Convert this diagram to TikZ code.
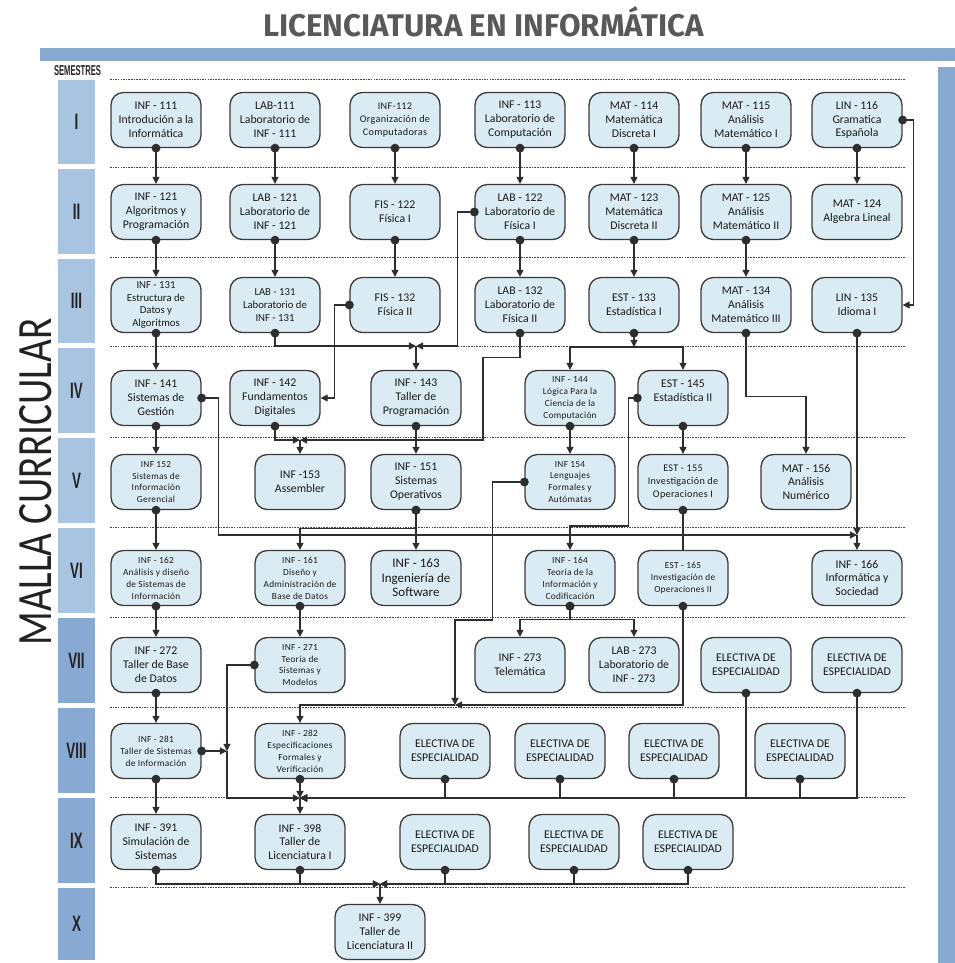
\documentclass[tikz,border=0pt]{standalone}
\usepackage{fontspec}
\usepackage{graphicx}
\setmainfont{Carlito}
\newfontfamily\titlefont{Fira Sans}
\newfontfamily\numfont{Liberation Sans}
\usetikzlibrary{arrows.meta}

\definecolor{bandaclara}{HTML}{A9C4E0}
\definecolor{bandaoscura}{HTML}{88A9D1}
\definecolor{barra}{HTML}{87A8CF}
\definecolor{celeste}{HTML}{DAEBF3}
\definecolor{borde}{HTML}{3A3A3A}
\definecolor{linea}{HTML}{2E2E2E}
\definecolor{gris}{HTML}{444444}
\definecolor{texto}{HTML}{1A1A1A}
\definecolor{numtexto}{HTML}{222222}
\definecolor{gristitulo}{HTML}{595959}

\newcommand{\fuenteN}{\fontsize{6.7}{7.9}\selectfont}
\newcommand{\fuenteM}{\fontsize{6.1}{7.3}\selectfont}
\newcommand{\fuenteG}{\fontsize{7.4}{8.3}\selectfont}
\newcommand{\fuenteS}{\fontsize{5.8}{7.3}\selectfont\addfontfeatures{LetterSpace=3}}
\newcommand{\fuenteT}{\fontsize{5.3}{6.8}\selectfont\addfontfeatures{LetterSpace=3}}

\begin{document}
\begin{tikzpicture}[x=0.02cm, y=-0.02cm]
\tikzstyle{materia} = [draw=borde, fill=celeste, line width=0.75pt, rounded corners=7pt, minimum width=1.8cm, minimum height=1.1cm, inner sep=1pt, align=center, text=texto, font=\fuenteN]
\tikzstyle{req} = [draw=linea, line width=0.65pt, shorten <=-2.5pt, {Circle[length=5pt]}-{Triangle[length=4pt,width=4pt]}]
\tikzstyle{enlace} = [draw=linea, line width=0.65pt, shorten <=-2.5pt, {Circle[length=5pt]}-]
\tikzstyle{sigue} = [draw=linea, line width=0.65pt, -{Triangle[length=4pt,width=4pt]}]
\tikzstyle{punteada} = [draw=gris, line width=0.55pt, dash pattern=on 0.9pt off 0.6pt]
\tikzstyle{semestre} = [font=\numfont\bfseries\fontsize{12.7}{13}\selectfont, text=numtexto, inner sep=0pt]
\useasboundingbox (0,0) rectangle (955,963);

% marco
\node[anchor=base, font=\titlefont\bfseries, text=gristitulo, inner sep=0pt] (titulo) at (483.5,37) {\resizebox{8.82cm}{!}{LICENCIATURA EN INFORMÁTICA}};
\fill[barra] (40,48) rectangle (955,61);
\fill[barra] (938,67) rectangle (955,963);
\node[anchor=base, inner sep=0pt, text=numtexto] (semestres) at (77.5,76) {\resizebox{0.94cm}{0.2cm}{\numfont\bfseries SEMESTRES}};
\node[rotate=90, inner sep=0pt, text=numtexto] (malla) at (36,482) {\resizebox{6.54cm}{0.64cm}{MALLA CURRICULAR}};

\foreach \num/\ya/\yb/\col in {I/80/164/bandaclara, II/169/254/bandaclara, III/259/343/bandaclara, IV/348/433/bandaclara, V/438/523/bandaclara, VI/528/613/bandaclara, VII/618/703/bandaoscura, VIII/708/793/bandaoscura, IX/798/883/bandaoscura, X/888/960/bandaoscura}{
  \fill[\col] (58,\ya) rectangle (95,\yb);
  \node[semestre] (sem\num) at (76.5,{(\ya+\yb)/2}) {\scalebox{0.6}[1]{\num}};
}
\foreach \y in {79,167,257,346,437,527,617,707,797,887}
  \draw[punteada] (110,\y) -- (905,\y);

% semestre I
\node[materia] (inf111) at (156,120) {INF - 111\\Introdución a la\\Informática};
\node[materia] (lab111) at (275,120) {LAB-111\\Laboratorio de\\INF - 111};
\node[materia, font=\fuenteS] (inf112) at (395,120) {INF-112\\Organización de\\Computadoras};
\node[materia] (inf113) at (520,120) {INF - 113\\Laboratorio de\\Computación};
\node[materia] (mat114) at (634,120) {MAT - 114\\Matemática\\Discreta I};
\node[materia] (mat115) at (746,120) {MAT - 115\\Análisis\\Matemático I};
\node[materia] (lin116) at (857,120) {LIN - 116\\Gramatica\\Española};

% semestre II
\node[materia] (inf121) at (156,212) {INF - 121\\Algoritmos y\\Programación};
\node[materia] (lab121) at (275,212) {LAB - 121\\Laboratorio de\\INF - 121};
\node[materia] (fis122) at (395,212) {FIS - 122\\Física I};
\node[materia] (lab122) at (520,212) {LAB - 122\\Laboratorio de\\Física I};
\node[materia] (mat123) at (634,212) {MAT - 123\\Matemática\\Discreta II};
\node[materia] (mat125) at (746,212) {MAT - 125\\Análisis\\Matemático II};
\node[materia] (mat124) at (857,212) {MAT - 124\\Algebra Lineal};

% semestre III
\node[materia, font=\fuenteM] (inf131) at (156,305) {INF - 131\\Estructura de\\Datos y\\Algoritmos};
\node[materia, font=\fuenteM] (lab131) at (275,305) {LAB - 131\\Laboratorio de\\INF - 131};
\node[materia] (fis132) at (395,305) {FIS - 132\\Física II};
\node[materia] (lab132) at (520,305) {LAB - 132\\Laboratorio de\\Física II};
\node[materia] (est133) at (634,305) {EST - 133\\Estadística I};
\node[materia] (mat134) at (746,305) {MAT - 134\\Análisis\\Matemático III};
\node[materia] (lin135) at (857,305) {LIN - 135\\Idioma I};

% semestre IV
\node[materia] (inf141) at (156,398) {INF - 141\\Sistemas de\\Gestión};
\node[materia] (inf142) at (275,398) {INF - 142\\Fundamentos\\Digitales};
\node[materia] (inf143) at (416,398) {INF - 143\\Taller de\\Programación};
\node[materia, font=\fuenteT] (inf144) at (570,398) {INF - 144\\Lógica Para la\\Ciencia de la\\Computación};
\node[materia] (est145) at (683,398) {EST - 145\\Estadística II\\~};

% semestre V
\node[materia, font=\fuenteT] (inf152) at (156,482) {INF 152\\Sistemas de\\Información\\Gerencial};
\node[materia] (inf153) at (300,482) {INF -153\\Assembler};
\node[materia] (inf151) at (416,482) {INF - 151\\Sistemas\\Operativos};
\node[materia, font=\fuenteT] (inf154) at (570,482) {INF 154\\Lenguajes\\Formales y\\Autómatas};
\node[materia, font=\fuenteS] (est155) at (683,482) {EST - 155\\Investigación de\\Operaciones I};
\node[materia] (mat156) at (806,482) {MAT - 156\\Análisis\\Numérico};

% semestre VI
\node[materia, font=\fuenteT] (inf162) at (156,578) {INF - 162\\Análisis y diseño\\de Sistemas de\\Información};
\node[materia, font=\fuenteT] (inf161) at (300,578) {INF - 161\\Diseño y\\Administración de\\Base de Datos};
\node[materia, font=\fuenteG] (inf163) at (416,578) {INF - 163\\Ingeniería de\\Software};
\node[materia, font=\fuenteT] (inf164) at (570,578) {INF - 164\\Teoría de la\\Información y\\Codificación};
\node[materia, font=\fuenteT] (est165) at (683,578) {EST - 165\\Investigación de\\Operaciones II};
\node[materia] (inf166) at (857,578) {INF - 166\\Informática y\\Sociedad};

% semestre VII
\node[materia] (inf272) at (156,665) {INF - 272\\Taller de Base\\de Datos};
\node[materia, font=\fuenteT] (inf271) at (300,665) {INF - 271\\Teoría de\\Sistemas y\\Modelos};
\node[materia] (inf273) at (520,665) {INF - 273\\Telemática};
\node[materia] (lab273) at (634,665) {LAB - 273\\Laboratorio de\\INF - 273};

% semestre VIII
\node[materia, font=\fuenteT] (inf281) at (156,751) {INF - 281\\Taller de Sistemas\\de Información};
\node[materia, font=\fuenteT] (inf282) at (300,751) {INF - 282\\Especificaciones\\Formales y\\Verificación};

% semestre IX y X
\node[materia] (inf391) at (156,842) {INF - 391\\Simulación de\\Sistemas};
\node[materia] (inf398) at (300,842) {INF - 398\\Taller de\\Licenciatura I};
\node[materia] (inf399) at (380,932) {INF - 399\\Taller de\\Licenciatura II};

% electivas
\foreach \n/\x/\y in {A7/746/665, B7/857/665, A8/445/751, B8/560/751, C8/674/751, D8/800/751, A9/445/842, B9/574/842, C9/688/842}
  \node[materia] (el\n) at (\x,\y) {ELECTIVA DE\\ESPECIALIDAD};

% puntos de union
\coordinate (j133) at (634,347);
\coordinate (j143) at (416,346);
\coordinate (j153) at (300,440);
\coordinate (j166) at (857,535);
\coordinate (j282) at (455,705);
\coordinate (j281) at (227,751);
\coordinate (j398) at (300,798);
\coordinate (j399) at (380,884);

% I -> II
\draw[req] (inf111.south) -- (inf121.north);
\draw[req] (lab111.south) -- (lab121.north);
\draw[req] (inf112.south) -- (fis122.north);
\draw[req] (inf113.south) -- (lab122.north);
\draw[req] (mat114.south) -- (mat123.north);
\draw[req] (mat115.south) -- (mat125.north);
\draw[req] (lin116.south) -- (mat124.north);
\draw[req] (lin116.east) -- ++(11,0) |- (lin135.east);

% II -> III
\draw[req] (inf121.south) -- (inf131.north);
\draw[req] (lab121.south) -- (lab131.north);
\draw[req] (fis122.south) -- (fis132.north);
\draw[req] (lab122.south) -- (lab132.north);
\draw[req] (mat123.south) -- (est133.north);
\draw[req] (mat125.south) -- (mat134.north);

% III -> IV
\draw[req] (inf131.south) -- (inf141.north);
\draw[req] (fis132.west) -- ++(-15,0) |- (inf142.east);
\draw[req] (lab131.south) |- (j143);
\draw[req] (lab122.west) -- ++(-17,0) |- (j143);
\draw[sigue] (j143) -- (inf143.north);
\draw[req] (est133.south) -- (j133);
\draw[sigue] (j133) -| (inf144.north);
\draw[sigue] (j133) -| (est145.north);
\draw[req] (mat134.south) -- ++(0,63.5) -| (mat156.north);

% IV -> V
\draw[req] (inf141.south) -- (inf152.north);
\draw[req] (inf142.south) |- (j153);
\draw[req] (lab132.south) -- ++(0,24) -- ++(-37,0) |- (j153);
\draw[sigue] (j153) -- (inf153.north);
\draw[req] (inf143.south) -- (inf151.north);
\draw[req] (inf144.south) -- (inf154.north);
\draw[req] (est145.south) -- (est155.north);

% V -> VI
\draw[req] (inf141.east) -- ++(17,0) |- (j166);
\draw[req] (lin135.south) -- (j166);
\draw[sigue] (j166) -- (inf166.north);
\draw[req] (inf152.south) -- (inf162.north);
\draw[req] (inf151.south) -- (inf163.north);
\draw[req] (inf151.south) -- ++(0,18) -| (inf161.north);
\draw[req] (est145.west) -- ++(-9,0) -- ++(0,128) -| (inf164.north);
\draw[enlace] (est155.south) -- (est165.north);

% VI -> VII
\draw[req] (inf162.south) -- (inf272.north);
\draw[req] (inf161.south) -- (inf271.north);
\draw[req] (inf164.south) -- ++(0,13) -| (inf273.north);
\draw[req] (inf164.south) -- ++(0,13) -| (lab273.north);

% VII -> VIII
\draw[req] (inf154.west) -- ++(-32,0) -- ++(0,138) -| (j282);
\draw[req] (est165.south) |- (j282);
\draw[sigue] (j282) -| (inf282.north);
\draw[req] (inf272.south) -- (inf281.north);

% VIII -> IX
\draw[req] (inf271.west) -| (j281);
\draw[req] (inf281.east) -- (j281);
\draw[sigue] (j281) |- (j398);
\draw[req] (inf282.south) -- (j398);
\draw[req] (elA7.south) |- (j398);
\draw[req] (elB7.south) |- (j398);
\draw[req] (elA8.south) |- (j398);
\draw[req] (elB8.south) |- (j398);
\draw[req] (elC8.south) |- (j398);
\draw[req] (elD8.south) |- (j398);
\draw[sigue] (j398) -- (inf398.north);
\draw[req] (inf281.south) -- (inf391.north);

% IX -> X
\draw[req] (inf391.south) |- (j399);
\draw[req] (inf398.south) |- (j399);
\draw[req] (elA9.south) |- (j399);
\draw[req] (elB9.south) |- (j399);
\draw[req] (elC9.south) |- (j399);
\draw[sigue] (j399) -- (inf399.north);
\end{tikzpicture}
\end{document}
